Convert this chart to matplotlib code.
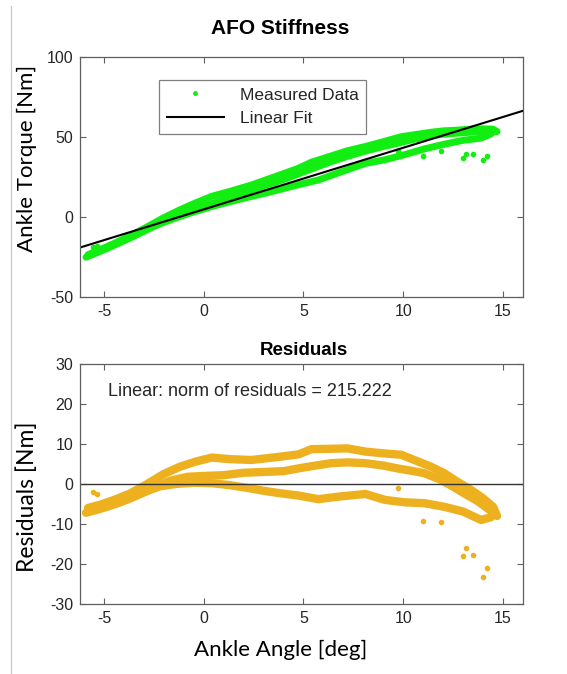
import numpy as np
import matplotlib
matplotlib.use('Agg')
import matplotlib.pyplot as plt
from matplotlib.lines import Line2D

plt.rcParams['font.family'] = 'Liberation Sans'
plt.rcParams['axes.unicode_minus'] = False

# linear fit (torque = slope * angle + intercept)
fit_slope = 3.85
fit_intercept = 4.8
fit_angle = [-6.2, 16.0]

# residual strands of the measured loop (angle in deg, residual in Nm)
angle_a = [-5.8, -5.2, -4.5, -3.7, -2.9, -2.0, -1.2, -0.4, 0.4, 1.3, 2.4, 3.8, 4.75, 5.4,
           6.4, 7.2, 8.1, 8.9, 9.9, 10.55, 11.4, 12.05, 12.7, 13.4, 14.0, 14.5, 14.7]
resid_a = [-6.0, -5.2, -4.0, -2.4, -0.2, 2.5, 4.3, 5.6, 6.6, 6.2, 6.0, 6.8, 7.4, 8.7,
           8.8, 8.9, 8.1, 7.7, 7.3, 6.0, 4.3, 2.7, 0.6, -1.5, -3.6, -5.7, -8.0]

angle_b = [-5.7, -5.0, -4.2, -3.4, -2.5, -1.7, -0.8, 0.0, 1.0, 2.0, 3.0, 4.0, 4.75, 5.6,
           6.4, 7.2, 8.1, 9.0, 9.7, 10.4, 11.05, 11.9, 12.5, 13.1, 13.7, 14.2, 14.6]
resid_b = [-6.8, -5.8, -4.6, -3.0, -1.0, 0.8, 1.8, 2.0, 2.2, 2.8, 3.0, 3.2, 3.9, 4.6,
           5.2, 5.4, 5.2, 4.6, 3.9, 3.3, 2.7, 1.0, -0.7, -2.5, -4.2, -6.0, -7.5]

angle_c = [-5.9, -5.3, -4.6, -3.8, -3.0, -2.2, -1.4, -0.5, 0.4, 1.3, 2.2, 3.0, 3.8, 4.75,
           5.75, 6.7, 8.1, 9.1, 10.1, 11.05, 12.05, 13.0, 13.9, 14.4]
resid_c = [-7.2, -6.4, -5.3, -3.8, -2.0, -0.6, 0.0, 0.3, 0.2, -0.3, -1.0, -1.7, -2.3, -2.9,
           -3.8, -3.2, -2.5, -4.0, -4.6, -4.8, -5.7, -6.9, -9.0, -8.3]

# isolated points
angle_out = [-5.56, -5.36, 9.73, 10.97, 11.88, 13.12, 12.99, 13.51, 14.2, 14.0]
resid_out = [-1.9, -2.5, -1.1, -9.2, -9.4, -15.9, -18.0, -17.7, -21.1, -23.2]

norm_text = 'Linear: norm of residuals = 215.222'

green = '#12ee12'
orange = '#EDB120'
edge = '#5f5f5f'
tick_col = '#262626'


def fit(a):
    return fit_slope * np.asarray(a) + fit_intercept


strands = [(angle_a, resid_a), (angle_b, resid_b), (angle_c, resid_c)]

fig = plt.figure(figsize=(5.67, 6.74), dpi=100)
ax1 = fig.add_axes([0.1411, 0.5593, 0.7813, 0.3561])
ax2 = fig.add_axes([0.1411, 0.1039, 0.7813, 0.3561])

# top: measured torque and linear fit
for ang, res in strands:
    ax1.plot(ang, fit(ang) + np.array(res), color=green, lw=5,
             solid_capstyle='round', solid_joinstyle='round')
ax1.plot(angle_out, fit(angle_out) + np.array(resid_out), '.', color=green, ms=6)
ax1.plot(fit_angle, fit(fit_angle), color='black', lw=1.5)
ax1.set_xlim(-6.2, 16)
ax1.set_ylim(-50, 100)
ax1.set_yticks([-50, 0, 50, 100])

handles = [Line2D([], [], color=green, marker='.', ms=5, ls='none'),
           Line2D([], [], color='black', lw=1.5)]
leg = ax1.legend(handles, ['Measured Data', 'Linear Fit'], loc='upper left',
                 bbox_to_anchor=(0.178, 0.906), fontsize=12.5, fancybox=False,
                 handlelength=3.3, borderpad=0.45, labelspacing=0.5,
                 handletextpad=0.9, borderaxespad=0)
leg.get_frame().set_edgecolor(edge)
leg.get_frame().set_linewidth(0.9)
for t in leg.get_texts():
    t.set_color(tick_col)

# bottom: residuals
for ang, res in strands:
    ax2.plot(ang, res, color=orange, lw=6,
             solid_capstyle='round', solid_joinstyle='round')
ax2.plot(angle_out, resid_out, '.', color=orange, ms=6)
ax2.axhline(0, color='#333333', lw=1.0)
ax2.set_xlim(-6.2, 16)
ax2.set_ylim(-30, 30)
ax2.set_yticks([-30, -20, -10, 0, 10, 20, 30])
ax2.text(-4.8, 23, norm_text, fontsize=13, color=tick_col, va='center', ha='left')

for ax in (ax1, ax2):
    ax.set_xticks([-5, 0, 5, 10, 15])
    ax.tick_params(direction='in', length=4, width=0.8, top=True, right=True,
                   labelsize=11.5, colors=edge, labelcolor=tick_col, pad=5)
    for s in ax.spines.values():
        s.set_color(edge)
        s.set_linewidth(0.9)

fig.text(280 / 567, 1 - 28 / 674, 'AFO Stiffness', fontsize=15, fontweight='bold',
         ha='center', va='center', color='black')
fig.text(304 / 567, 1 - 350 / 674, 'Residuals', fontsize=13.5, fontweight='bold',
         ha='center', va='center', color='black')

fig.text(27 / 567, 1 - 158 / 674, 'Ankle Torque [Nm]', family='Lato', fontsize=16,
         rotation=90, ha='center', va='center', color='black')
fig.text(27 / 567, 1 - 497 / 674, 'Residuals [Nm]', family='Lato', fontsize=16.5,
         rotation=90, ha='center', va='center', color='black')
fig.text(281 / 567, 1 - 650 / 674, 'Ankle Angle [deg]', family='Lato', fontsize=16,
         ha='center', va='center', color='black')

fig.add_artist(Line2D([10.5 / 567, 10.5 / 567], [0, 1 - 6 / 674],
                      color='#c8c8c8', lw=0.9))

fig.savefig('out.png', dpi=100, facecolor='white')
